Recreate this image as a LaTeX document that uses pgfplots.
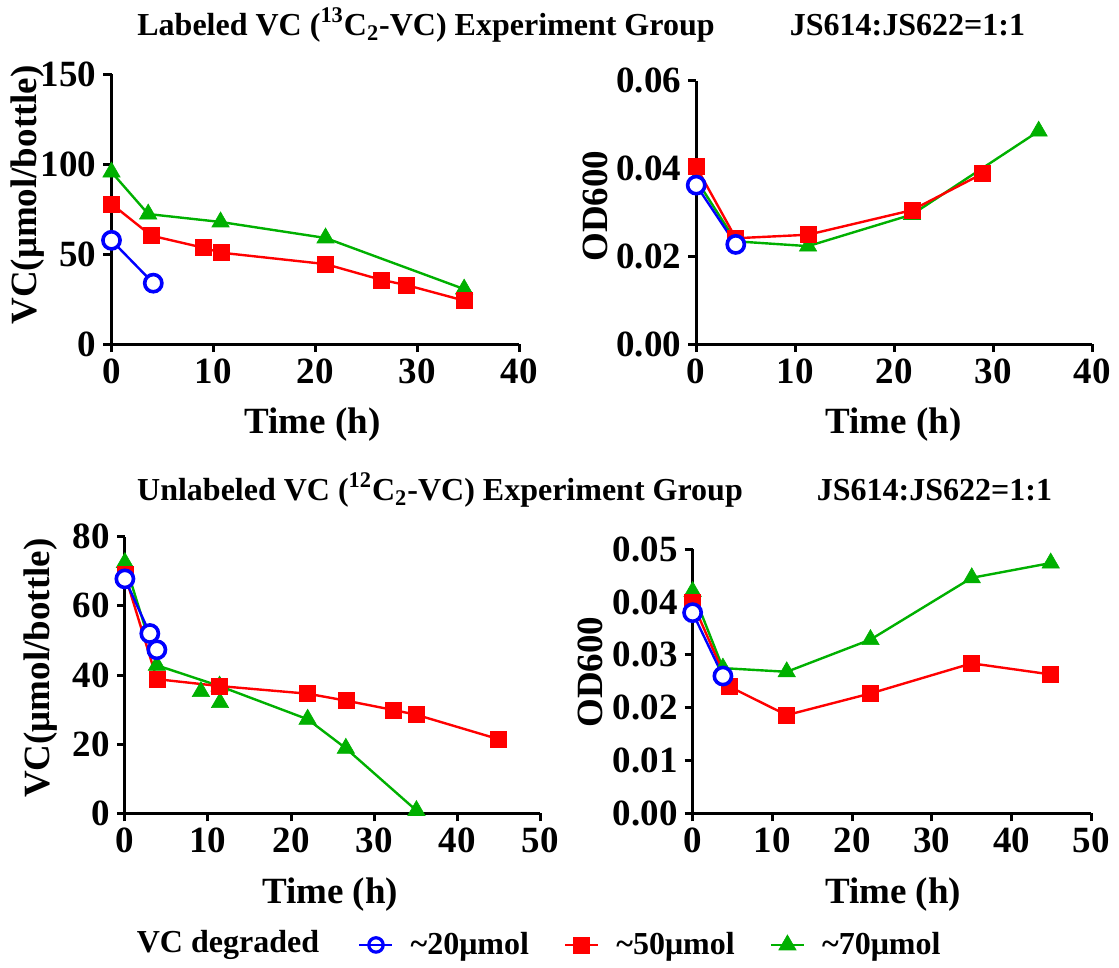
\documentclass[border=0pt]{standalone}
\usepackage{fontspec}
\setmainfont{Liberation Serif}
\usepackage{pgfplots}
\pgfplotsset{compat=1.18}

\definecolor{myblue}{RGB}{0,0,255}
\definecolor{myred}{RGB}{255,0,0}
\definecolor{mygreen}{RGB}{0,176,0}

\pgfplotsset{
  panel/.style={
    scale only axis,
    axis x line=bottom, axis y line=left,
    axis line style={line width=1.5pt, -},
    every tick/.style={line width=1.5pt, black},
    tick align=outside, major tick length=4pt,
    ticklabel style={font=\bfseries\fontsize{18.5}{20}\selectfont},
    label style={font=\bfseries\fontsize{18.5}{20}\selectfont},
    /pgf/number format/assume math mode=true,
    clip=false,
    scaled y ticks=false,
  },
  s20/.style={myblue, line width=1.2pt, mark=*, mark size=4.3pt, mark options={solid, fill=white, draw=myblue, line width=1.8pt}},
  s50/.style={myred, line width=1.2pt, mark=square*, mark size=4pt, mark options={solid, fill=myred, draw=myred, line width=0.3pt}},
  s70/.style={mygreen, line width=1.2pt, mark=triangle*, mark size=5pt, mark options={solid, fill=mygreen, draw=mygreen, line width=0.3pt}},
}

\begin{document}
\begin{tikzpicture}
\useasboundingbox (0,0) rectangle (559.5pt,-484pt);

% titles
\node[font=\bfseries\fontsize{16}{18}\selectfont] at (213pt,-12.5pt) {Labeled VC (\textsuperscript{13}C\textsubscript{2}-VC) Experiment Group};
\node[font=\bfseries\fontsize{16}{18}\selectfont] at (453.75pt,-12.5pt) {JS614:JS622=1:1};
\node[font=\bfseries\fontsize{16}{18}\selectfont] at (220pt,-245pt) {Unlabeled VC (\textsuperscript{12}C\textsubscript{2}-VC) Experiment Group};
\node[font=\bfseries\fontsize{16}{18}\selectfont] at (467.25pt,-245pt) {JS614:JS622=1:1};

% Panel 1
\begin{axis}[panel, at={(55.75pt,-172pt)}, anchor=south west,
  width=203.85pt, height=135pt,
  xmin=0, xmax=40, ymin=0, ymax=150,
  xtick={0,10,20,30,40}, ytick={0,50,100,150},
  xlabel={Time (h)}, ylabel={VC(μmol/bottle)},
  xlabel style={at={(axis description cs:0.493,-0.30)}, anchor=center},
  ylabel style={at={(axis description cs:-0.205,0.552)}, anchor=center},
]
\addplot[s70] coordinates {(0,95.5) (3.6,72.2) (10.7,67.8) (21.0,58.9) (34.6,30.5)};
\addplot[s50] coordinates {(0,77.8) (3.9,60.2) (9.0,53.5) (10.8,50.7) (21.0,44.4) (26.5,35.6) (28.9,32.8) (34.6,24.1)};
\addplot[s20] coordinates {(0,57.6) (4.1,33.8)};
\end{axis}

% Panel 2
\begin{axis}[panel, at={(348.1pt,-172pt)}, anchor=south west,
  width=197.95pt, height=131.65pt,
  xmin=0, xmax=40, ymin=0, ymax=0.06,
  xtick={0,10,20,30,40}, ytick={0,0.02,0.04,0.06},
  yticklabel style={/pgf/number format/.cd, fixed, fixed zerofill, precision=2},
  xlabel={Time (h)}, ylabel={OD600},
  xlabel style={at={(axis description cs:0.498,-0.308)}, anchor=center},
  ylabel style={at={(axis description cs:-0.255,0.524)}, anchor=center},
]
\addplot[s70] coordinates {(0,0.0375) (4.0,0.0234) (11.3,0.0223) (21.8,0.0295) (34.6,0.0485)};
\addplot[s50] coordinates {(0,0.0404) (4.0,0.0241) (11.3,0.0249) (21.8,0.0305) (28.9,0.0388)};
\addplot[s20] coordinates {(0,0.0362) (4.0,0.0227)};
\end{axis}

% Panel 3
\begin{axis}[panel, at={(62.45pt,-406.65pt)}, anchor=south west,
  width=207.65pt, height=138.3pt,
  xmin=0, xmax=50, ymin=0, ymax=80,
  xtick={0,10,20,30,40,50}, ytick={0,20,40,60,80},
  xlabel={Time (h)}, ylabel={VC(μmol/bottle)},
  xlabel style={at={(axis description cs:0.494,-0.295)}, anchor=center},
  ylabel style={at={(axis description cs:-0.202,0.525)}, anchor=center},
  legend style={at={(axis description cs:0.561,-0.476)}, anchor=west, draw=none, fill=none,
    legend columns=3, inner sep=0pt, nodes={inner sep=0pt},
    font=\bfseries\fontsize{16}{18}\selectfont,
    /tikz/every odd column/.append style={column sep=8.5pt},
    /tikz/every even column/.append style={column sep=17.5pt}},
  legend image code/.code={\draw[mark repeat=2,mark phase=2] plot coordinates {(0pt,0pt) (8.25pt,0pt) (16.5pt,0pt)};},
]
\addplot[s70, forget plot] coordinates {(0,72.5) (3.85,42.8) (11.4,36.8) (22.0,27.2) (26.6,18.8) (35.1,0.8)};
\addplot[s70, only marks, forget plot] coordinates {(9.15,35.2) (11.45,32.0)};
\addplot[s50, forget plot] coordinates {(0,69) (3.85,38.8) (11.4,36.8) (22.0,34.6) (26.6,32.6) (32.3,29.9) (35.1,28.5) (44.9,21.5)};
\addplot[s20, forget plot] coordinates {(0,67.8) (3.0,52.0) (3.85,47.3)};
\addlegendimage{myblue, line width=1.2pt, mark=o, mark size=3.6pt, mark options={solid, line width=1.6pt}}
\addlegendentry{\textasciitilde20μmol}
\addlegendimage{s50}
\addlegendentry{\textasciitilde50μmol}
\addlegendimage{s70}
\addlegendentry{\textasciitilde70μmol}
\end{axis}

% Panel 4
\begin{axis}[panel, at={(346.3pt,-406.65pt)}, anchor=south west,
  width=199.4pt, height=132pt,
  xmin=0, xmax=50, ymin=0, ymax=0.05,
  xtick={0,10,20,30,40,50}, ytick={0,0.01,0.02,0.03,0.04,0.05},
  yticklabel style={/pgf/number format/.cd, fixed, fixed zerofill, precision=2},
  xlabel={Time (h)}, ylabel={OD600},
  xlabel style={at={(axis description cs:0.503,-0.309)}, anchor=center},
  ylabel style={at={(axis description cs:-0.257,0.535)}, anchor=center},
]
\addplot[s70] coordinates {(0,0.0420) (3.8,0.0275) (11.8,0.0268) (22.3,0.0329) (35.0,0.0446) (44.9,0.0474)};
\addplot[s50] coordinates {(0,0.0399) (4.6,0.0240) (11.8,0.0186) (22.3,0.0227) (35.0,0.0284) (44.9,0.0263)};
\addplot[s20] coordinates {(0,0.0380) (3.8,0.0260)};
\end{axis}

\node[font=\bfseries\fontsize{16}{18}\selectfont] at (114pt,-472.5pt) {VC degraded};
\end{tikzpicture}
\end{document}
